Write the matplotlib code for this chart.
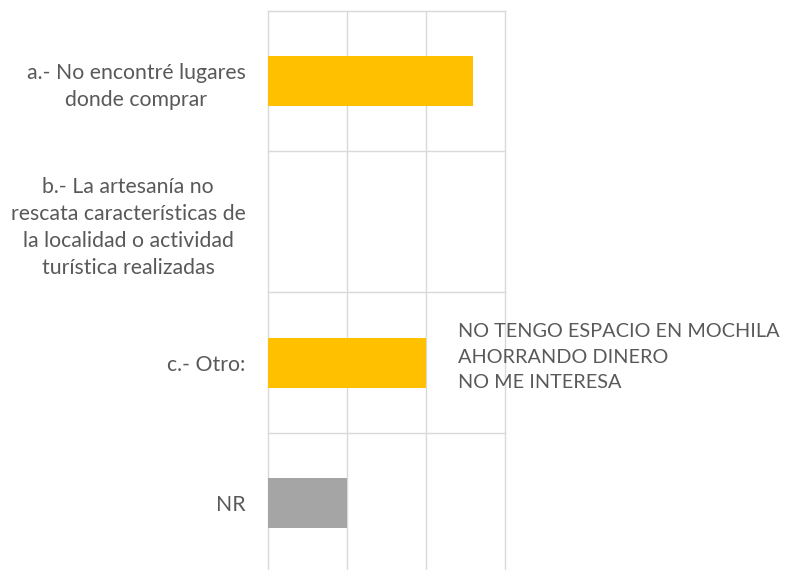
import matplotlib
matplotlib.use('Agg')
import matplotlib.pyplot as plt

categories = ["a.- No encontré lugares\ndonde comprar",
              "b.- La artesanía no\nrescata características de\nla localidad o actividad\nturística realizadas",
              "c.- Otro:",
              "NR"]
values = [2.6, 0, 2.0, 1.0]
colors = ['#FFC000', '#FFC000', '#FFC000', '#A5A5A5']
otro_note = "NO TENGO ESPACIO EN MOCHILA\nAHORRANDO DINERO\nNO ME INTERESA"

plt.rcParams['font.family'] = ['Lato', 'DejaVu Sans']
text_color = '#595959'
grid_color = '#D9D9D9'

fig = plt.figure(figsize=(7.86, 5.70), dpi=100)
ax = fig.add_axes([0.3406, -0.0067, 0.3019, 0.9879])

idx = list(range(len(categories)))
ax.barh(idx, values, height=0.355, color=colors, zorder=3)

ax.set_xlim(0, 3)
ax.set_ylim(3.5, -0.5)
ax.set_xticks([0, 1, 2, 3])
ax.set_xticklabels([])
ax.set_yticks(idx)
ax.set_yticklabels(categories, fontsize=15.3, color=text_color,
                   multialignment='center', linespacing=1.45)
ax.set_yticks([-0.5, 0.5, 1.5, 2.5, 3.5], minor=True)
ax.tick_params(axis='both', which='both', length=0)
ax.tick_params(axis='y', pad=16)
ax.grid(axis='x', color=grid_color, linewidth=1.0, zorder=0)
ax.grid(axis='y', which='minor', color=grid_color, linewidth=1.0, zorder=0)
for t in ax.xaxis.get_major_ticks() + ax.yaxis.get_minor_ticks():
    t.gridline.set_clip_on(False)
for s in ax.spines.values():
    s.set_visible(False)

ax.text(2.40, 1.96, otro_note, fontsize=14.3, color=text_color, ha='left',
        va='center', linespacing=1.58, clip_on=False, zorder=4)

fig.savefig('out.png', dpi=100)
